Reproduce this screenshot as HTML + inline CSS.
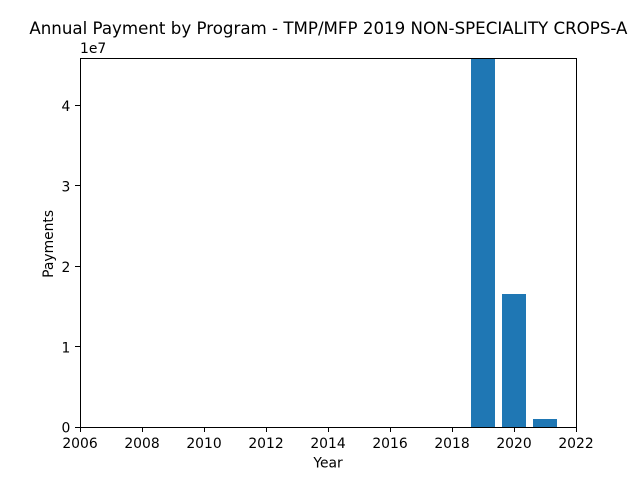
<!DOCTYPE html>
<html>
<head>
<meta charset="utf-8">
<style>
html,body{margin:0;padding:0;background:#fff;}
svg{display:block;font-family:"DejaVu Sans",sans-serif;fill:#000;}
</style>
</head>
<body>
<svg id="chart" width="640" height="480" viewBox="0 0 640 480" xmlns="http://www.w3.org/2000/svg">
<rect x="0" y="0" width="640" height="480" fill="#ffffff"/>
<rect x="80" y="58" width="496" height="369" fill="#ffffff"/>
<g id="bars" shape-rendering="crispEdges"></g>
<g id="ticks"></g>
<rect x="80.5" y="58.5" width="496" height="369" fill="none" stroke="#000" stroke-width="1" shape-rendering="crispEdges"/>
<text x="328.4" y="34" font-size="16.67" text-anchor="middle">Annual Payment by Program - TMP/MFP 2019 NON-SPECIALITY CROPS-A</text>
<text x="328" y="467.6" font-size="13.89" text-anchor="middle">Year</text>
<text transform="translate(53 243.9) rotate(-90)" font-size="13.89" text-anchor="middle">Payments</text>
<text x="80" y="53" font-size="13.89">1e7</text>
</svg>
<script>
var years = [2019, 2020, 2021];
var payments = [46000000, 16570000, 1020000];
var xTickLabels = [2006, 2008, 2010, 2012, 2014, 2016, 2018, 2020, 2022];
var yTickLabels = [0, 1, 2, 3, 4];
var yTickScale = 10000000;
var xDomain = [2006, 2022];
var yDomain = [0, 45970000];
var barWidthInYears = 0.8;

var plot = {left: 80, right: 576, top: 57.6, bottom: 427.2};
var ns = 'http://www.w3.org/2000/svg';
function xScale(v) {
  return plot.left + (v - xDomain[0]) / (xDomain[1] - xDomain[0]) * (plot.right - plot.left);
}
function yScale(v) {
  return plot.bottom - (v - yDomain[0]) / (yDomain[1] - yDomain[0]) * (plot.bottom - plot.top);
}
function snapLine(v) {
  return Math.floor(v) + 0.5;
}
function make(tag, attrs) {
  var el = document.createElementNS(ns, tag);
  for (var k in attrs) { el.setAttribute(k, attrs[k]); }
  return el;
}
var barsGroup = document.getElementById('bars');
var ticksGroup = document.getElementById('ticks');
years.forEach(function (year, i) {
  var top = Math.round(Math.max(yScale(payments[i]), plot.top));
  var bottom = Math.round(plot.bottom);
  var x0 = Math.round(xScale(year - barWidthInYears / 2));
  var x1 = Math.round(xScale(year + barWidthInYears / 2));
  var bar = make('rect', {x: x0, y: top, width: x1 - x0, height: bottom - top, fill: '#1f77b4'});
  
  
  barsGroup.appendChild(bar);
});
xTickLabels.forEach(function (label) {
  var x = xScale(label);
  var sx = snapLine(x);
  var tick = make('line', {x1: sx, x2: sx, y1: 427, y2: 432, stroke: '#000', 'stroke-width': 1, 'shape-rendering': 'crispEdges'});
  
  
  ticksGroup.appendChild(tick);
  var text = make('text', {x: x, y: 447.8, 'font-size': 13.89, 'text-anchor': 'middle'});
  text.textContent = label;
  
  
  ticksGroup.appendChild(text);
});
yTickLabels.forEach(function (label) {
  var y = yScale(label * yTickScale);
  var sy = snapLine(y);
  var tick = make('line', {x1: 75, x2: 80, y1: sy, y2: sy, stroke: '#000', 'stroke-width': 1, 'shape-rendering': 'crispEdges'});
  
  
  ticksGroup.appendChild(tick);
  var text = make('text', {x: plot.left - 9.7, y: y + 5.5, 'font-size': 13.89, 'text-anchor': 'end'});
  text.textContent = label;
  
  
  ticksGroup.appendChild(text);
});
</script>
</body>
</html>
